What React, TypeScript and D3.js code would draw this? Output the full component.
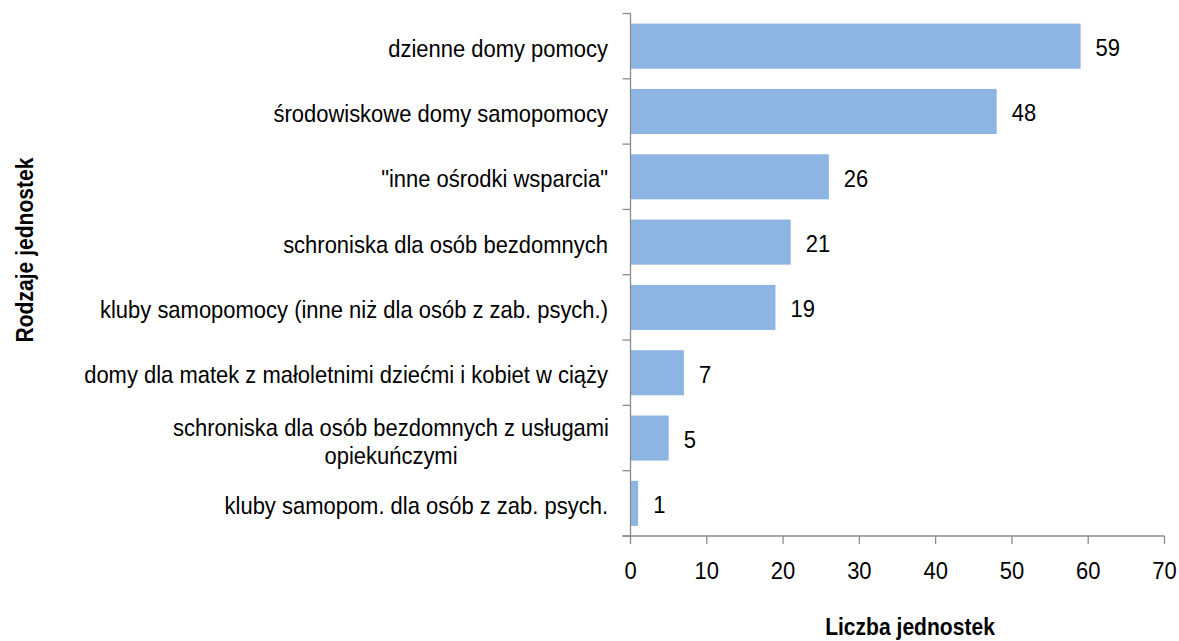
import React, { useEffect, useRef } from "react";
import * as d3 from "d3";

const categories = [
  "dzienne domy pomocy",
  "środowiskowe domy samopomocy",
  "\"inne ośrodki wsparcia\"",
  "schroniska dla osób bezdomnych",
  "kluby samopomocy (inne niż dla osób z zab. psych.)",
  "domy dla matek z małoletnimi dziećmi i kobiet w ciąży",
  "schroniska dla osób bezdomnych z usługami\nopiekuńczymi",
  "kluby samopom. dla osób z zab. psych.",
];
const values = [59, 48, 26, 21, 19, 7, 5, 1];
const xTicks = [0, 10, 20, 30, 40, 50, 60, 70];
const xTitle = "Liczba jednostek";
const yTitle = "Rodzaje jednostek";

const W = 1179;
const H = 641;
const FONT = "'Liberation Sans', Arial, sans-serif";
const SX = 0.916;
const AXIS = "#8c8c8c";
const BAR = "#8DB4E2";

export default function App() {
  const ref = useRef<SVGSVGElement | null>(null);

  useEffect(() => {
    document.body.style.margin = "0";
    const svg = d3.select(ref.current);
    svg.selectAll("*").remove();

    const x = d3.scaleLinear().domain([0, 70]).range([630.5, 1164.5]);
    const y = d3
      .scaleBand<string>()
      .domain(categories)
      .range([13.5, 536])
      .paddingInner(0.31)
      .paddingOuter(0.155);
    const step = y.step();
    const yTop = 13.5;
    const yBottom = 536;

    // bars
    svg
      .append("g")
      .selectAll("rect")
      .data(values)
      .join("rect")
      .attr("x", x(0))
      .attr("y", (_d, i) => y(categories[i]) as number)
      .attr("width", (d) => x(d) - x(0))
      .attr("height", y.bandwidth())
      .attr("fill", BAR);

    // axes
    const ax = svg.append("g").attr("stroke", AXIS).attr("stroke-width", 1.3).attr("fill", "none");
    ax.append("line").attr("x1", x(0)).attr("x2", x(0)).attr("y1", yTop).attr("y2", yBottom);
    ax.append("line").attr("x1", x(0) - 8).attr("x2", x(70)).attr("y1", yBottom).attr("y2", yBottom);
    d3.range(categories.length + 1).forEach((i) => {
      const yy = yTop + i * step;
      ax.append("line").attr("x1", x(0) - 8).attr("x2", x(0)).attr("y1", yy).attr("y2", yy);
    });
    xTicks.forEach((t) => {
      ax.append("line").attr("x1", x(t)).attr("x2", x(t)).attr("y1", yBottom).attr("y2", yBottom + 8);
    });

    const txt = (g: any, tx: number, ty: number, s: string, anchor: string, size: number, bold = false) =>
      g
        .append("text")
        .attr("transform", `translate(${tx},${ty}) scale(${SX},1)`)
        .attr("text-anchor", anchor)
        .attr("font-family", FONT)
        .attr("font-size", size)
        .attr("font-weight", bold ? "bold" : "normal")
        .attr("fill", "#000")
        .text(s);

    const tg = svg.append("g");
    // x tick labels
    xTicks.forEach((t) => txt(tg, x(t), 579, String(t), "middle", 24));

    // category labels
    categories.forEach((c, i) => {
      const cy = (y(c) as number) + y.bandwidth() / 2;
      const lines = c.split("\n");
      if (lines.length === 1) {
        txt(tg, 608, cy + 10.5, c, "end", 24);
      } else {
        const first = txt(tg, 0, 0, lines[0], "start", 24);
        const w = (first.node() as SVGTextElement).getComputedTextLength() * SX;
        first.remove();
        const cx = 609 - w / 2;
        lines.forEach((l, k) => txt(tg, cx, cy - 2 + k * 28, l, "middle", 24));
      }
    });

    // value labels
    values.forEach((v, i) => {
      const cy = (y(categories[i]) as number) + y.bandwidth() / 2;
      txt(tg, x(v) + 15, cy + 10, String(v), "start", 24);
    });

    // titles
    txt(tg, 910, 635, xTitle, "middle", 23, true);
    tg.append("text")
      .attr("transform", `translate(33,250) rotate(-90) scale(${SX},1)`)
      .attr("text-anchor", "middle")
      .attr("font-family", FONT)
      .attr("font-size", 23)
      .attr("font-weight", "bold")
      .attr("fill", "#000")
      .text(yTitle);
  }, []);

  return <svg ref={ref} width={W} height={H} style={{ display: "block", background: "#fff" }} />;
}
